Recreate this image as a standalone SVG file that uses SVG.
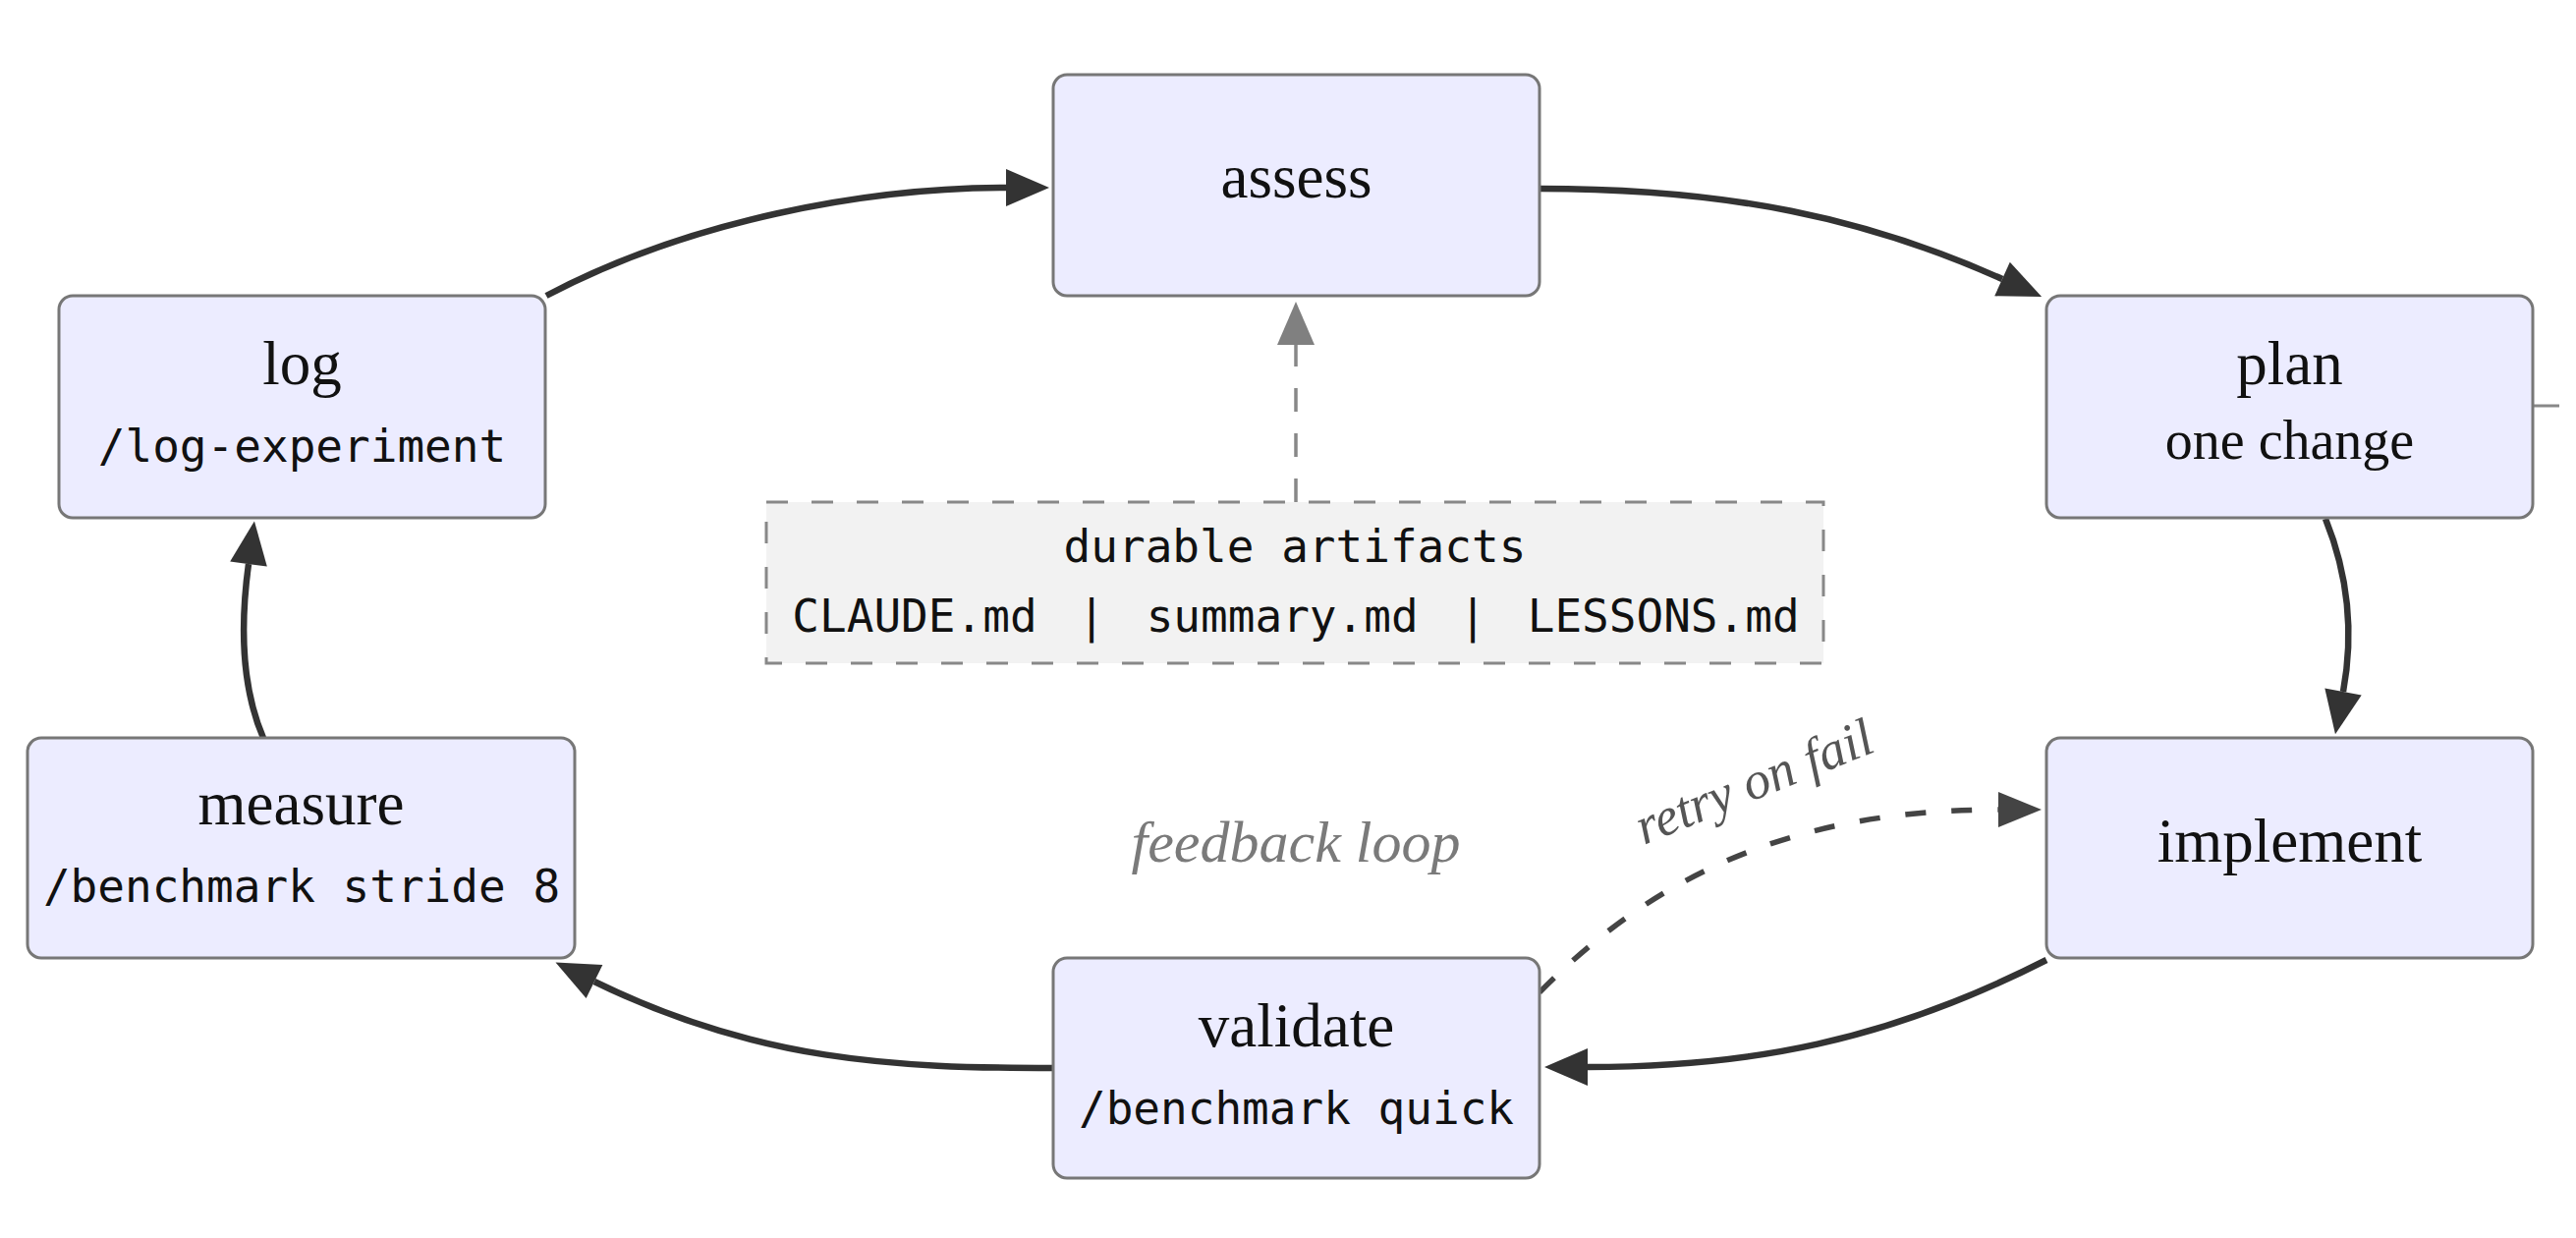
<svg xmlns="http://www.w3.org/2000/svg" width="2622" height="1260" viewBox="0 0 2622 1260">
  <style>
    .node rect { fill: #ECECFF; stroke: #777; stroke-width: 3; }
    .title { font-family: "Liberation Serif", "DejaVu Serif", serif; font-size: 63px; fill: #111; text-anchor: middle; }
    .sub { font-family: "Liberation Serif", "DejaVu Serif", serif; font-size: 56px; fill: #111; text-anchor: middle; }
    .mono { font-family: "DejaVu Sans Mono", "Liberation Mono", monospace; font-size: 46px; fill: #111; text-anchor: middle; }
    .edge { fill: none; stroke: #333; stroke-width: 6.5; }
    .retry { fill: none; stroke: #444; stroke-width: 5.5; stroke-dasharray: 21 26; }
    .dep { fill: none; stroke: #888; stroke-width: 3.5; stroke-dasharray: 24 22; }
    .note { font-family: "Liberation Serif", "DejaVu Serif", serif; font-style: italic; text-anchor: middle; }
  </style>
  <defs>
    <marker id="arrow" markerUnits="userSpaceOnUse" markerWidth="46" markerHeight="40" refX="0" refY="19" orient="auto" overflow="visible">
      <path d="M0,0 L44,19 L0,38 z" fill="#333"/>
    </marker>
    <marker id="arrowRetry" markerUnits="userSpaceOnUse" markerWidth="46" markerHeight="40" refX="0" refY="18" orient="auto" overflow="visible">
      <path d="M0,0 L44,18 L0,36 z" fill="#444"/>
    </marker>
    <marker id="arrowGrey" markerUnits="userSpaceOnUse" markerWidth="46" markerHeight="40" refX="0" refY="19" orient="auto" overflow="visible">
      <path d="M0,0 L44,19 L0,38 z" fill="#808080"/>
    </marker>
  </defs>

  <g id="connectors">
    <path class="edge" d="M 556 301 C 700 225, 880 191, 1024 191" marker-end="url(#arrow)"/>
    <path class="edge" d="M 1567 192 C 1760 192, 1900 222, 2038 284" marker-end="url(#arrow)"/>
    <path class="edge" d="M 2367 528 C 2392 590, 2395 650, 2385 704" marker-end="url(#arrow)"/>
    <path class="edge" d="M 2083 977 C 1920 1060, 1780 1086, 1616 1086" marker-end="url(#arrow)"/>
    <path class="edge" d="M 1072 1087 C 910 1087, 770 1080, 605 999" marker-end="url(#arrow)"/>
    <path class="edge" d="M 268 751 C 246 700, 244 640, 253 574" marker-end="url(#arrow)"/>
    <path class="retry" d="M 1567 1010 C 1680 895, 1820 824, 2034 824" marker-end="url(#arrowRetry)"/>
    <path class="dep" d="M 1319 511 L 1319 351" marker-end="url(#arrowGrey)"/>
    <line x1="2578" y1="413" x2="2605" y2="413" stroke="#888" stroke-width="3"/>
    <text class="note" x="1792" y="812" font-size="54" fill="#555" transform="rotate(-22 1792 812)">retry on fail</text>
  </g>

  <g id="artifacts">
    <rect x="780" y="511" width="1076" height="164" fill="#F2F2F2" stroke="#888" stroke-width="3" stroke-dasharray="22 24"/>
    <text class="mono" x="1318" y="572">durable artifacts</text>
    <text class="mono" x="1319" y="643" word-spacing="14">CLAUDE.md | summary.md | LESSONS.md</text>
  </g>

  <g id="assess" class="node">
    <rect x="1072" y="76" width="495" height="225" rx="14"/>
    <text class="title" x="1319.5" y="201">assess</text>
  </g>

  <g id="plan" class="node">
    <rect x="2083" y="301" width="495" height="226" rx="14"/>
    <text class="title" x="2330.5" y="391">plan</text>
    <text class="sub" x="2330.5" y="467">one change</text>
  </g>

  <g id="implement" class="node">
    <rect x="2083" y="751" width="495" height="224" rx="14"/>
    <text class="title" x="2330.5" y="877">implement</text>
  </g>

  <g id="validate" class="node">
    <rect x="1072" y="975" width="495" height="224" rx="14"/>
    <text class="title" x="1319.5" y="1065">validate</text>
    <text class="mono" x="1319.5" y="1144">/benchmark quick</text>
  </g>

  <g id="measure" class="node">
    <rect x="28" y="751" width="557" height="224" rx="14"/>
    <text class="title" x="306.5" y="839">measure</text>
    <text class="mono" x="307" y="918">/benchmark stride 8</text>
  </g>

  <g id="log" class="node">
    <rect x="60" y="301" width="495" height="226" rx="14"/>
    <text class="title" x="307.5" y="391">log</text>
    <text class="mono" x="307.5" y="470">/log-experiment</text>
  </g>

  <g id="label-feedback">
    <text class="note" x="1319" y="877" font-size="60" fill="#7a7a7a">feedback loop</text>
  </g>
</svg>
